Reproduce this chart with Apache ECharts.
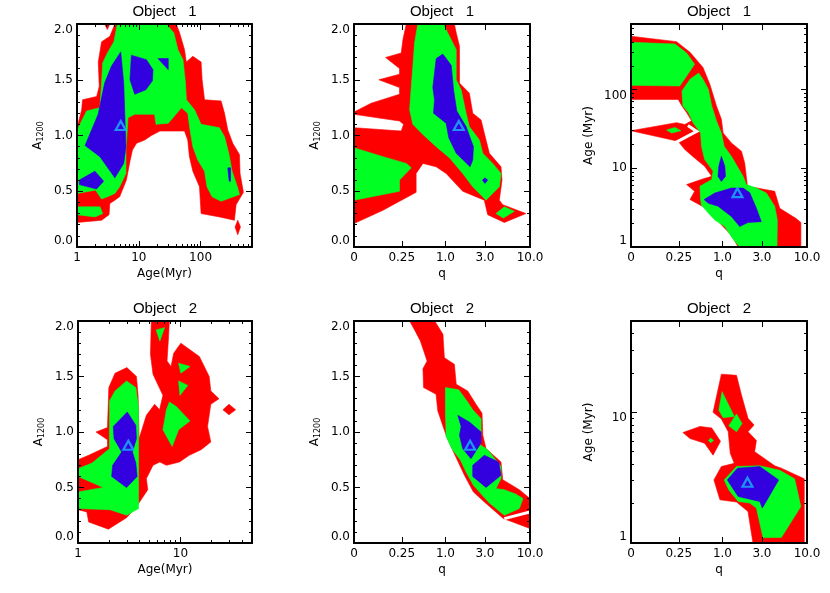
<!DOCTYPE html>
<html>
<head>
<meta charset="utf-8">
<script src="https://cdn.jsdelivr.net/npm/echarts@6.0.0/dist/echarts.min.js"></script>
<style>html,body{margin:0;padding:0;background:#fff}#chart{width:830px;height:593px}</style>
</head>
<body>
<div id="chart"></div>
<script>
// ---------------- tick values ----------------
const ageMajorTop = [1, 10, 100];
const ageMinorTop = [2,3,4,5,6,7,8,9,20,30,40,50,60,70,80,90,200,300,400,500,600];
const ageMajorBot = [1, 10];
const ageMinorBot = [2,3,4,5,6,7,8,9,20,30,40];
const qTicks = [0, 0.25, 1, 3, 10];
const qTickLabels = ['0', '0.25', '1.0', '3.0', '10.0'];
const aMajor = [0, 0.5, 1, 1.5, 2];
const aMinor = [0.1,0.2,0.3,0.4,0.6,0.7,0.8,0.9,1.1,1.2,1.3,1.4,1.6,1.7,1.8,1.9];

// ---------------- Object 1 : A1200 vs Age ----------------
const p1Red = [
  [[1,0.22],[1,1.07],[1.19,1.23],[1.23,1.32],[2.08,1.35],[2.29,1.44],[2.21,1.66],[2.5,1.84],[3.41,1.89],[4.1,2.0],[40.5,2.0],[45.8,1.92],[55,1.77],[58.7,1.66],[75,1.71],[102,1.66],[106,1.5],[116,1.32],[215,1.31],[244,1.2],[276,1.05],[332,0.93],[426,0.83],[436,0.66],[494,0.49],[376,0.38],[353,0.24],[202,0.27],[102,0.30],[96,0.54],[75,0.68],[66,0.81],[62,0.96],[55,1.04],[40,1.04],[22,1.04],[16,1.0],[12.5,0.96],[9.2,0.93],[7.9,0.87],[7.2,0.77],[6.3,0.60],[4.9,0.45],[4.1,0.42],[3.4,0.39],[3.3,0.29],[2.5,0.24]],
  [[400,0.24],[442,0.18],[400,0.11],[362,0.18]],
  [[2.8,2.0],[3.4,2.0],[3.1,1.95]]
];
const p1Green = [
  [[1,0.48],[1,1.05],[1.26,1.16],[1.43,1.22],[2.35,1.25],[2.5,1.47],[2.6,1.65],[3.1,1.74],[3.95,1.84],[4.5,2.0],[27.9,2.0],[37,1.92],[43,1.77],[52,1.68],[57,1.47],[59,1.32],[80,1.23],[102,1.10],[202,1.07],[244,0.99],[286,0.84],[324,0.68],[400,0.53],[426,0.47],[215,0.41],[154,0.45],[127,0.54],[116,0.68],[90,0.78],[75,0.90],[68,1.04],[62,1.20],[49,1.25],[40,1.19],[30,1.11],[19,1.10],[18,1.19],[13.3,1.19],[8.6,1.19],[6.7,1.16],[6.2,0.87],[6.2,0.66],[4.9,0.54],[4.1,0.48],[3.1,0.45],[2.5,0.43],[2.0,0.51]],
  [[1,0.36],[2.35,0.36],[2.6,0.30],[1.95,0.27],[1,0.29]]
];
const p1Blue = [
  [[5.1,1.75],[5.7,1.47],[6.2,0.90],[5.7,0.75],[4.1,0.62],[2.35,0.81],[1.35,0.91],[2.2,1.19],[2.8,1.47],[3.6,1.62]],
  [[1.09,0.60],[1.95,0.68],[2.7,0.59],[2.07,0.52],[1.09,0.56]],
  [[7.6,1.72],[13.3,1.68],[17,1.59],[16.6,1.49],[13,1.41],[8.6,1.37],[7.2,1.5]],
  [[20.5,1.69],[30,1.69],[30,1.59]],
  [[276,0.71],[305,0.71],[305,0.59],[290,0.59]]
];
const p1Best = [5.1, 1.09];

// ---------------- Object 1 : A1200 vs q ----------------
const p2Red = [
  [[0,0.21],[0,1.07],[0.245,1.04],[0.267,1.10],[0.23,1.13],[0,1.19],[0,1.21],[0.057,1.29],[0.23,1.37],[0.23,1.43],[0.092,1.50],[0.23,1.55],[0.23,1.60],[0.129,1.70],[0.245,1.74],[0.261,1.86],[0.294,2.0],[1.29,2.0],[1.36,1.92],[1.49,1.80],[1.49,1.47],[1.96,1.38],[2.15,1.20],[2.70,1.14],[2.95,1.02],[3.38,0.84],[4.62,0.72],[4.75,0.60],[4.42,0.42],[4.84,0.38],[8.98,0.30],[5.05,0.22],[3.23,0.29],[2.95,0.42],[1.63,0.50],[1.02,0.66],[0.76,0.72],[0.51,0.75],[0.41,0.66],[0.41,0.49],[0.23,0.41],[0.114,0.33]]
];
const p2Green = [
  [[0,0.89],[0.114,0.81],[0.294,0.75],[0.349,0.71],[0.23,0.60],[0.23,0.50],[0,0.42]],
  [[0.433,2.0],[0.944,2.0],[1.07,1.92],[1.36,1.77],[1.36,1.50],[1.56,1.41],[1.79,1.20],[1.96,1.08],[2.58,0.96],[2.83,0.84],[3.70,0.75],[4.62,0.66],[4.42,0.54],[3.09,0.42],[2.15,0.54],[1.63,0.66],[1.12,0.80],[0.763,0.90],[0.508,1.01],[0.368,1.10],[0.33,1.23],[0.349,1.44],[0.368,1.62],[0.389,1.83]],
  [[4.04,0.30],[5.05,0.36],[6.6,0.32],[4.92,0.26]]
];
const p2Blue = [
  [[0.763,1.69],[0.926,1.73],[1.18,1.63],[1.26,1.41],[1.38,1.22],[1.79,1.08],[2.19,0.90],[2.15,0.78],[2.0,0.72],[1.36,0.84],[1.10,0.98],[1.02,1.11],[0.704,1.20],[0.726,1.32],[0.69,1.43]],
  [[2.80,0.60],[3.0,0.62],[3.23,0.60],[3.0,0.57]]
];
const p2Best = [1.46, 1.09];

// ---------------- Object 1 : Age vs q ----------------
const p3Red = [
  [[0,475],[0.23,406],[0.37,297],[0.56,191],[0.69,117],[0.84,62],[0.97,42],[1.02,28],[1.29,21],[1.71,16.5],[1.87,11.7],[2.02,5.9],[4.23,5.1],[4.84,3.1],[7.5,2.3],[8.5,2.05],[8.5,1],[1.56,1],[1.29,1.42],[0.97,1.91],[0.80,2.44],[0.66,3.0],[0.46,3.6],[0.37,4.0],[0.43,5.1],[0.33,6.2],[0.53,7.2],[0.73,7.9],[0.59,10.6],[0.43,13.5],[0.31,17.3],[0.245,22],[0,30],[0.23,38],[0.31,36],[0.39,40],[0.33,51],[0.28,62],[0.245,75],[0,75]]
];
const p3Green = [
  [[0,398],[0.216,379],[0.33,291],[0.43,210],[0.26,111],[0,113]],
  [[0.49,162],[0.56,135],[0.66,101],[0.73,62],[0.84,40],[0.97,28],[1.05,19],[1.29,14.2],[1.79,7.9],[1.96,6.2],[2.58,5.6],[3.38,4.84],[4.23,3.3],[4.54,2.2],[4.5,1],[1.63,1],[1.33,1.29],[1.07,1.82],[0.80,2.2],[0.66,2.7],[0.535,3.4],[0.52,4.0],[0.51,5.9],[0.73,7.2],[0.76,9.2],[0.59,12.9],[0.535,19],[0.52,28],[0.41,38],[0.35,51],[0.29,62],[0.28,96],[0.37,135]],
  [[0.154,30.6],[0.216,33],[0.27,30],[0.19,28]]
];
const p3Blue = [
  [[0.97,14.2],[1.07,10.6],[1.09,7.9],[0.97,6.8],[0.88,7.9],[0.9,10.6]],
  [[0.58,4.0],[0.80,4.84],[1.29,5.6],[1.79,5.6],[2.15,4.9],[2.58,3.1],[2.95,2.1],[2.05,2.05],[1.63,1.82],[1.29,2.44],[0.88,3.3],[0.66,3.6]]
];
const p3White = [
  [[0.225,21.3],[0.46,29.4],[0.345,35]]
];
const p3Best = [1.53, 4.9];

// ---------------- Object 2 : A1200 vs Age ----------------
const p4Red = [
  [[1,0.30],[1,0.75],[1.27,0.79],[1.94,0.87],[1.94,0.93],[1.5,1.0],[1.94,1.04],[2.0,1.40],[2.3,1.53],[3.0,1.58],[3.72,1.50],[3.86,1.33],[3.95,0.94],[4.65,1.15],[5.6,1.25],[6.26,1.20],[6.75,1.33],[5.4,1.52],[5.1,1.70],[5.2,2.0],[7.8,2.0],[7.65,1.85],[7.4,1.64],[8.1,1.59],[8.6,1.71],[10.1,1.80],[15.3,1.68],[19.1,1.50],[19.8,1.37],[23.8,1.30],[19.8,1.25],[18.4,1.05],[19.8,0.91],[15.9,0.84],[12.2,0.79],[9.8,0.73],[7.3,0.70],[6.3,0.73],[5.4,0.70],[4.65,0.58],[4.8,0.48],[3.8,0.34],[3.0,0.23],[1.98,0.125],[1.27,0.19],[1.22,0.28]],
  [[26,1.2],[29.8,1.25],[34.6,1.2],[29.8,1.155]]
];
const p4Green = [
  [[1,0.67],[1.37,0.72],[2.03,0.85],[2.03,1.28],[2.3,1.37],[2.98,1.46],[3.67,1.40],[3.9,1.22],[3.9,0.31],[3.0,0.25],[2.05,0.30],[1,0.31],[1,0.46],[1.77,0.50],[1,0.60]],
  [[5.8,1.92],[7.0,1.94],[6.3,1.82]],
  [[9.6,1.62],[12.4,1.59],[10.1,1.53]],
  [[9.6,1.46],[11.8,1.42],[9.9,1.33]],
  [[7.8,1.27],[9.1,1.23],[12.4,1.10],[9.6,1.02],[8.3,0.87],[6.75,1.02],[7.3,1.20]]
];
const p4Blue = [
  [[3.03,1.18],[3.67,1.06],[3.72,0.94],[3.4,0.82],[3.67,0.72],[3.78,0.60],[2.98,0.50],[2.13,0.60],[2.18,0.70],[2.67,0.82],[2.25,0.94],[2.21,1.05]]
];
const p4Best = [3.1, 0.88];

// ---------------- Object 2 : A1200 vs q ----------------
const p5Red = [
  [[0.33,2.0],[0.73,2.0],[0.93,1.88],[0.97,1.67],[1.29,1.61],[1.36,1.43],[1.87,1.37],[2.35,1.25],[2.77,1.17],[2.83,0.97],[3.09,0.85],[4.62,0.73],[4.84,0.57],[7.54,0.48],[10,0.40],[10,0.13],[6.3,0.19],[4.92,0.22],[2.95,0.37],[2.19,0.46],[1.71,0.61],[1.26,0.82],[1.02,0.97],[0.80,1.19],[0.76,1.34],[0.52,1.40],[0.51,1.57],[0.58,1.64],[0.47,1.82],[0.39,1.92]]
];
const p5Green = [
  [[1.0,1.40],[1.46,1.38],[1.87,1.27],[2.15,1.20],[2.70,1.12],[2.70,0.97],[2.46,0.90],[3.23,0.84],[4.62,0.69],[4.62,0.58],[4.04,0.49],[5.05,0.48],[6.9,0.44],[8.3,0.40],[7.54,0.31],[5.05,0.25],[3.38,0.36],[2.95,0.41],[2.19,0.52],[1.79,0.64],[1.52,0.75],[1.2,0.85],[1.02,0.96],[1.0,1.18]]
];
const p5Blue = [
  [[1.42,1.15],[1.96,1.09],[2.70,1.0],[2.70,0.90],[2.05,0.76],[1.63,0.85],[1.49,0.97],[1.56,1.05]],
  [[2.15,0.70],[2.95,0.79],[4.35,0.73],[4.62,0.61],[3.09,0.50],[2.15,0.60]]
];
const p5White = [
  [[5.05,0.22],[10,0.28]]
];
const p5Best = [2.0, 0.88];

// ---------------- Object 2 : Age vs q ----------------
const p6Red = [
  [[0.97,19.6],[1.49,19.2],[1.71,13.6],[2.05,9.0],[2.42,8.0],[2.05,7.1],[2.58,6.1],[2.46,5.0],[4.23,3.9],[5.05,3.74],[9.3,3.1],[9.3,1],[2.35,1],[2.05,1.74],[1.49,2.06],[0.93,2.14],[0.78,3.04],[0.97,3.85],[1.40,4.07],[1.25,4.86],[1.18,7.1],[0.97,8.9],[0.76,10]],
  [[0.29,7.0],[0.51,7.8],[0.73,7.6],[0.945,6.0],[0.76,4.7],[0.59,5.8],[0.37,6.3]]
];
const p6Green = [
  [[0.66,6.1],[0.71,6.35],[0.77,6.1],[0.71,5.85]],
  [[0.99,14.4],[1.40,9.3],[1.02,9.1],[0.9,10.4]],
  [[1.2,7.9],[1.49,9.7],[1.74,8.2],[1.49,7.1]],
  [[1.05,3.04],[1.49,3.85],[2.83,3.9],[4.84,3.6],[7.2,3.1],[8.5,1.9],[5.05,1.1],[3.09,1.1],[2.58,1.85],[2.15,2.02],[1.56,2.08],[1.2,2.55]]
];
const p6Blue = [
  [[1.15,3.04],[1.53,3.74],[2.83,3.85],[4.7,3.04],[3.54,2.2],[3.03,1.85],[2.83,2.08],[1.56,2.27]]
];
const p6Best = [2.02, 2.92];

// ---------------- styling / layout ----------------
const FONT = 'DejaVu Sans';
const COLORS = {red: '#FF0000', green: '#00FF22', blue: '#3300E0', cyan: '#18B8FF'};
const Q_OFFSET = 0.1;

function qFmt(v) {
  const q = Math.pow(10, v) - Q_OFFSET;
  let best = 0;
  qTicks.forEach((t, i) => { if (Math.abs(t - q) < Math.abs(qTicks[best] - q)) best = i; });
  return qTickLabels[best];
}
const scales = {
  ageTop: {tf: v => Math.log10(v), min: 0, max: Math.log10(680), major: ageMajorTop, minor: ageMinorTop,
           fmt: v => String(Math.round(Math.pow(10, v)))},
  ageBot: {tf: v => Math.log10(v), min: 0, max: Math.log10(50), major: ageMajorBot, minor: ageMinorBot,
           fmt: v => String(Math.round(Math.pow(10, v)))},
  q: {tf: v => Math.log10(v + Q_OFFSET), min: Math.log10(Q_OFFSET), max: Math.log10(10 + Q_OFFSET),
      major: qTicks, minor: [], fmt: qFmt},
  A: {tf: v => v, min: 0, max: 2, major: aMajor, minor: aMinor, fmt: v => Number(v).toFixed(1)}
};

const panels = [
  {title: 'Object   1', rect: [77, 24, 175, 223], x: 'ageTop', y: 'A', xName: 'Age(Myr)', yName: 'A',
   red: p1Red, green: p1Green, blue: p1Blue, white: [], best: p1Best, titleY: 12},
  {title: 'Object   1', rect: [354, 24, 176, 223], x: 'q', y: 'A', xName: 'q', yName: 'A',
   red: p2Red, green: p2Green, blue: p2Blue, white: [], best: p2Best, titleY: 12},
  {title: 'Object   1', rect: [631, 24, 176, 223], x: 'q', y: 'ageTop', xName: 'q', yName: 'Age (Myr)',
   red: p3Red, green: p3Green, blue: p3Blue, white: p3White, best: p3Best, titleY: 12},
  {title: 'Object   2', rect: [78, 321, 174, 222], x: 'ageBot', y: 'A', xName: 'Age(Myr)', yName: 'A',
   red: p4Red, green: p4Green, blue: p4Blue, white: [], best: p4Best, titleY: 309},
  {title: 'Object   2', rect: [354, 321, 176, 222], x: 'q', y: 'A', xName: 'q', yName: 'A',
   red: p5Red, green: p5Green, blue: p5Blue, white: p5White, best: p5Best, titleY: 309},
  {title: 'Object   2', rect: [631, 321, 176, 222], x: 'q', y: 'ageBot', xName: 'q', yName: 'Age (Myr)',
   red: p6Red, green: p6Green, blue: p6Blue, white: [], best: p6Best, titleY: 309}
];

function mkAxis(sc, gi, pos, major, withLabel, isX) {
  const vals = (major ? sc.major : sc.minor).map(sc.tf);
  const ax = {
    type: 'value', gridIndex: gi, position: pos, min: sc.min, max: sc.max, z: 10, silent: true,
    axisLine: {show: major, onZero: false, lineStyle: {color: '#000', width: 2}},
    axisTick: {show: true, inside: true, length: major ? 6 : 3, customValues: vals,
               lineStyle: {color: '#000', width: 1}},
    axisLabel: {show: withLabel, customValues: vals, formatter: sc.fmt, color: '#000',
                fontFamily: FONT, fontSize: 12, margin: isX ? 5 : 4},
    splitLine: {show: false}, minorTick: {show: false}, minorSplitLine: {show: false}
  };
  if (withLabel && !isX) {
    ax.axisLabel.verticalAlignMinLabel = 'bottom';
    ax.axisLabel.verticalAlignMaxLabel = 'top';
  }
  return ax;
}

const grids = [], xAxes = [], yAxes = [], series = [], graphics = [];
panels.forEach((p, gi) => {
  grids.push({left: p.rect[0], top: p.rect[1], width: p.rect[2], height: p.rect[3], containLabel: false});
  const sx = scales[p.x], sy = scales[p.y];

  const xMain = xAxes.length;
  const xa = mkAxis(sx, gi, 'bottom', true, true, true);
  xa.name = p.xName; xa.nameLocation = 'middle'; xa.nameGap = 21;
  xa.nameTextStyle = {color: '#000', fontFamily: FONT, fontSize: 12};
  xAxes.push(xa);
  if (sx.minor.length) xAxes.push(mkAxis(sx, gi, 'bottom', false, false, true));
  xAxes.push(mkAxis(sx, gi, 'top', true, false, true));
  if (sx.minor.length) xAxes.push(mkAxis(sx, gi, 'top', false, false, true));

  const yMain = yAxes.length;
  const ya = mkAxis(sy, gi, 'left', true, true, false);
  ya.nameLocation = 'middle'; ya.nameRotate = 90;
  if (p.yName === 'A') {
    ya.name = '{a|A}{s|1200}'; ya.nameGap = 32;
    ya.nameTextStyle = {color: '#000', fontFamily: FONT, fontSize: 12, rich: {
      a: {fontSize: 12, fontFamily: FONT, color: '#000', lineHeight: 14},
      s: {fontSize: 8, fontFamily: FONT, color: '#000', lineHeight: 10, verticalAlign: 'bottom'}
    }};
  } else {
    ya.name = p.yName; ya.nameGap = 36;
    ya.nameTextStyle = {color: '#000', fontFamily: FONT, fontSize: 12};
  }
  yAxes.push(ya);
  if (sy.minor.length) yAxes.push(mkAxis(sy, gi, 'left', false, false, false));
  yAxes.push(mkAxis(sy, gi, 'right', true, false, false));
  if (sy.minor.length) yAxes.push(mkAxis(sy, gi, 'right', false, false, false));

  const shapes = [];
  p.red.forEach(pts => shapes.push({pts, fill: COLORS.red}));
  p.green.forEach(pts => shapes.push({pts, fill: COLORS.green}));
  p.blue.forEach(pts => shapes.push({pts, fill: COLORS.blue}));
  p.white.forEach(pts => shapes.push({pts, line: true}));

  series.push({
    type: 'custom', xAxisIndex: xMain, yAxisIndex: yMain, z: 2, silent: true, clip: true,
    animation: false,
    encode: {x: 0, y: 1},
    data: shapes.map((s, i) => [sx.tf(s.pts[0][0]), sy.tf(s.pts[0][1]), i]),
    renderItem: function (params, api) {
      const s = shapes[params.dataIndex];
      const pts = s.pts.map(pt => api.coord([sx.tf(pt[0]), sy.tf(pt[1])]));
      if (s.line) {
        return {type: 'polyline', shape: {points: pts}, style: {stroke: '#fff', lineWidth: 3, fill: null}};
      }
      return {type: 'polygon', shape: {points: pts}, style: {fill: s.fill, stroke: s.fill, lineWidth: 0.6}};
    }
  });
  series.push({
    type: 'scatter', xAxisIndex: xMain, yAxisIndex: yMain, z: 5, silent: true, animation: false,
    symbol: 'triangle', symbolSize: [10, 9],
    itemStyle: {color: 'rgba(0,0,0,0)', borderColor: COLORS.cyan, borderWidth: 2.2},
    data: [[sx.tf(p.best[0]), sy.tf(p.best[1])]]
  });

  graphics.push({
    type: 'text', x: p.rect[0] + p.rect[2] / 2, y: p.titleY, silent: true,
    style: {text: p.title, font: '15px "Liberation Sans"', fill: '#000',
            align: 'center', verticalAlign: 'middle', textAlign: 'center', textVerticalAlign: 'middle'}
  });
});

const chart = echarts.init(document.getElementById('chart'), null, {renderer: 'canvas'});
chart.setOption({
  animation: false,
  backgroundColor: '#fff',
  textStyle: {fontFamily: FONT},
  grid: grids,
  xAxis: xAxes,
  yAxis: yAxes,
  series: series,
  graphic: graphics
});
</script>
</body>
</html>
